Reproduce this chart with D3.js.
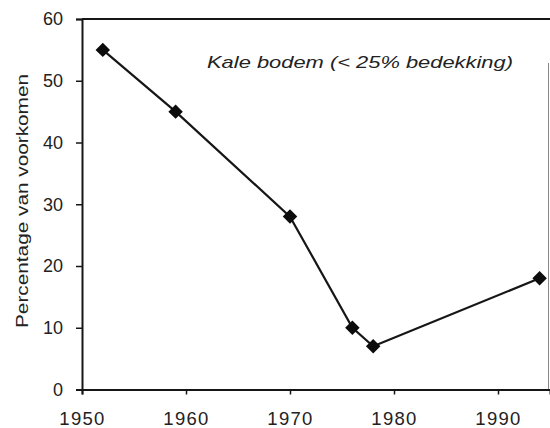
<!DOCTYPE html>
<meta charset="utf-8">
<style>
body { margin: 0; background: #fff; }
svg { font-family: Arial, "Liberation Sans", Helvetica, sans-serif; }
.tick text { fill: #222; }
</style>
<svg width="550" height="428"></svg>
<script src="https://cdn.jsdelivr.net/npm/d3@7"></script>
<script>

// data
var years = [1952, 1959, 1970, 1976, 1978, 1994];
var values = [55, 45, 28, 10, 7, 18];
var xTicks = [1950, 1960, 1970, 1980, 1990];
var yTicks = [0, 10, 20, 30, 40, 50, 60];
var title = "Kale bodem (< 25% bedekking)";
var yLabel = "Percentage van voorkomen";

var svg = d3.select("svg");
var ink = "#161616";

var x = d3.scaleLinear().domain([1950, 1995]).range([82, 550]);
var y = d3.scaleLinear().domain([0, 60]).range([389.5, 19]);

// frame: top and right
svg.append("line")
    .attr("x1", x(1950)).attr("x2", 550)
    .attr("y1", y(60)).attr("y2", y(60))
    .attr("stroke", ink).attr("stroke-width", 2);
svg.append("line")
    .attr("x1", 548.5).attr("x2", 548.5)
    .attr("y1", 63).attr("y2", y(0))
    .attr("stroke", "#888").attr("stroke-width", 1);

var xAxis = svg.append("g")
    .attr("transform", "translate(0," + y(0) + ")")
    .call(d3.axisBottom(x).tickValues(xTicks).tickFormat(d3.format("d")).tickSize(5).tickPadding(17));
xAxis.selectAll("text").attr("font-size", 18.5).style("letter-spacing", "1.3px");

var yAxis = svg.append("g")
    .attr("transform", "translate(" + x(1950) + ",0)")
    .call(d3.axisLeft(y).tickValues(yTicks).tickSize(6).tickPadding(13));
yAxis.selectAll("text").attr("font-size", 18);

svg.selectAll(".domain").attr("stroke", ink).attr("stroke-width", 2);
svg.selectAll(".tick line").attr("stroke", ink).attr("stroke-width", 1.5);

var pts = years.map(function(d, i) { return [d, values[i]]; });

var line = d3.line()
    .x(function(d) { return x(d[0]); })
    .y(function(d) { return y(d[1]); });

svg.append("path")
    .datum(pts)
    .attr("d", line)
    .attr("fill", "none")
    .attr("stroke", ink)
    .attr("stroke-width", 2.2);

var marker = d3.symbol().type(d3.symbolSquare).size(105);
svg.selectAll(".pt")
    .data(pts)
  .enter().append("path")
    .attr("class", "pt")
    .attr("d", marker)
    .attr("fill", "#0c0c0c")
    .attr("transform", function(d) { return "translate(" + x(d[0]) + "," + y(d[1]) + ") rotate(45)"; });

svg.append("text")
    .attr("x", 207).attr("y", 68)
    .attr("font-size", 17)
    .attr("font-style", "italic")
    .attr("fill", "#222")
    .attr("textLength", 306)
    .attr("lengthAdjust", "spacingAndGlyphs")
    .text(title);

svg.append("text")
    .attr("transform", "translate(28,201) rotate(-90)")
    .attr("text-anchor", "middle")
    .attr("font-size", 17)
    .attr("fill", "#222")
    .attr("textLength", 254)
    .attr("lengthAdjust", "spacingAndGlyphs")
    .text(yLabel);

</script>
